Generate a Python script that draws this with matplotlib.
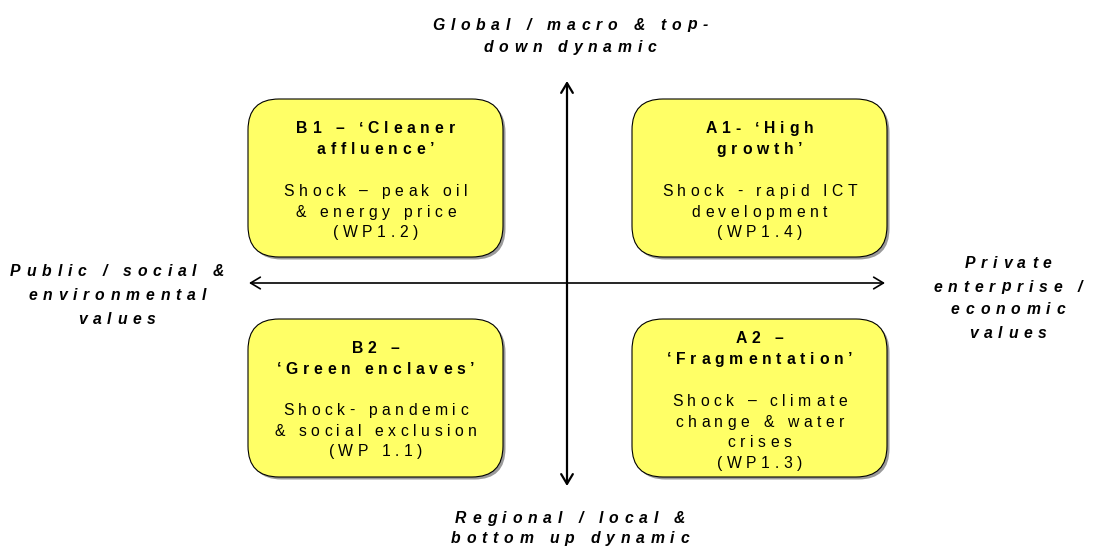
import matplotlib.pyplot as plt
from matplotlib.patches import FancyBboxPatch
from matplotlib.font_manager import FontProperties, findfont
from matplotlib.ft2font import FT2Font

plt.rcParams['font.family'] = ['Liberation Sans', 'DejaVu Sans']

# scenario boxes, in order B1, A1, B2, A2
titles = [["B1 \u2013 \u2018Cleaner", "affluence\u2019"],
          ["A1- \u2018High", "growth\u2019"],
          ["B2 \u2013", "\u2018Green enclaves\u2019"],
          ["A2 \u2013", "\u2018Fragmentation\u2019"]]
bodies = [["Shock \u2013 peak oil", "& energy price", "(WP1.2)"],
          ["Shock - rapid ICT", "development", "(WP1.4)"],
          ["Shock- pandemic", "& social exclusion", "(WP 1.1)"],
          ["Shock \u2013 climate", "change & water", "crises", "(WP1.3)"]]

# axis end labels
top_label = ["Global / macro & top-", "down dynamic"]
bottom_label = ["Regional / local &", "bottom up dynamic"]
left_label = ["Public / social &", "environmental", "values"]
right_label = ["Private", "enterprise /", "economic", "values"]

fig = plt.figure(figsize=(10.95, 5.48), dpi=100)
ax = fig.add_axes([0, 0, 1, 1])
ax.set_xlim(0, 1095)
ax.set_ylim(548, 0)
ax.axis('off')


def spaced_line(s, cx, base, size, track, weight='normal', style='normal'):
    # the original uses wide letter spacing, so place each glyph by hand
    fp = FontProperties(family='Liberation Sans', size=size,
                        weight=weight, style=style)
    font = FT2Font(findfont(fp))
    font.set_size(size, 100)
    advs = []
    for c in s:
        g = font.load_char(ord(c))
        advs.append(g.linearHoriAdvance / 65536.0)
    gap = track * size * 100 / 72.0
    width = sum(advs) + gap * (len(s) - 1)
    x = cx - width / 2
    for c, a in zip(s, advs):
        if c != ' ':
            ax.text(x, base, c, fontproperties=fp, ha='left',
                    va='baseline', zorder=4)
        x += a + gap


def spaced_block(lines, cx, base, step, size, track, **kw):
    for i, ln in enumerate(lines):
        spaced_line(ln, cx, base + i * step, size, track, **kw)


# box geometry (pixels): left, top, right, bottom
box_pos = [(248, 99, 503, 257), (632, 99, 887, 257),
           (248, 319, 503, 477), (632, 319, 887, 477)]
title_base = [133, 133, 353, 343]
body_base = [196, 196, 415, 406]

for (x0, y0, x1, y1), t, b, tb, bb in zip(box_pos, titles, bodies,
                                          title_base, body_base):
    shadow = FancyBboxPatch((x0 + 2.5, y0 + 2.5), x1 - x0, y1 - y0,
                            boxstyle="round,pad=0,rounding_size=31",
                            fc='#9a9a9a', ec='none', zorder=1)
    ax.add_patch(shadow)
    box = FancyBboxPatch((x0, y0), x1 - x0, y1 - y0,
                         boxstyle="round,pad=0,rounding_size=31",
                         fc='#ffff66', ec='black', lw=0.8, zorder=2)
    ax.add_patch(box)
    cx = (x0 + x1) / 2
    spaced_block(t, cx, tb, 20.7, 11.3, 0.31, weight='bold')
    spaced_block(b, cx, bb, 20.7, 11.3, 0.29)

# axes arrows
ax.annotate('', xy=(567, 81), xytext=(567, 486),
            arrowprops=dict(arrowstyle='<->,head_length=0.5,head_width=0.3',
                            lw=1.6, color='black', mutation_scale=14,
                            shrinkA=0, shrinkB=0))
ax.annotate('', xy=(249, 283), xytext=(885, 283),
            arrowprops=dict(arrowstyle='<->,head_length=0.5,head_width=0.3',
                            lw=1.2, color='black', mutation_scale=14,
                            shrinkA=0, shrinkB=0))

lab = dict(weight='bold', style='italic')
spaced_block(top_label, 570, 29.5, 22.3, 11.3, 0.37, **lab)
spaced_block(bottom_label, 570, 523, 20.0, 11.3, 0.37, **lab)
spaced_block(left_label, 117, 276.5, 24.0, 11.3, 0.37, **lab)
spaced_block(right_label, 1008, 268.5, 23.0, 11.3, 0.37, **lab)

fig.savefig('out.png', dpi=100)
